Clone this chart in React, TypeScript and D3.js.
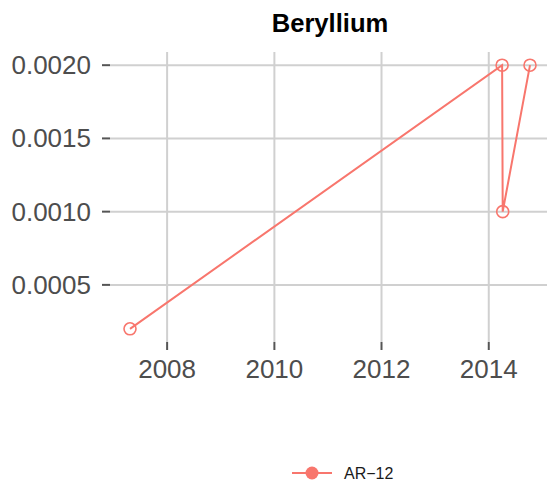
import React from "react";
import * as d3 from "d3";

const title = "Beryllium";
const seriesName = "AR\u221212";
const dates = ["2007-04-23", "2014-04-02", "2014-04-06", "2014-10-09"];
const values = [0.0002, 0.002, 0.001, 0.002];
const yTicks = [0.0005, 0.001, 0.0015, 0.002];
const xTickYears = [2008, 2010, 2012, 2014];

const W = 547;
const H = 483;
const color = "#F8766D";
const font = "'Liberation Sans', Arial, Helvetica, sans-serif";

export default function App() {
  const parse = d3.timeParse("%Y-%m-%d");
  const data = dates.map((d, i) => ({ t: parse(d) as Date, v: values[i] }));

  const tExt = d3.extent(data, (d) => d.t.getTime()) as [number, number];
  const tPad = (tExt[1] - tExt[0]) * 0.05;
  const vExt = d3.extent(data, (d) => d.v) as [number, number];
  const vPad = (vExt[1] - vExt[0]) * 0.05;

  const L = 110, R = 550, T = 52, B = 342;
  const x = d3
    .scaleTime()
    .domain([new Date(tExt[0] - tPad), new Date(tExt[1] + tPad)])
    .range([L, R]);
  const y = d3.scaleLinear().domain([vExt[0] - vPad, vExt[1] + vPad]).range([B, T]);

  const line = d3
    .line<{ t: Date; v: number }>()
    .x((d) => x(d.t))
    .y((d) => y(d.v));

  const fmt = d3.format(".4f");
  const xTicks = xTickYears.map((yr) => new Date(yr, 0, 1));

  return (
    <svg
      width={W}
      height={H}
      style={{ position: "absolute", left: 0, top: 0, background: "#fff" }}
      fontFamily={font}
    >
      <defs>
        <clipPath id="panel">
          <rect x={L} y={T} width={R - L} height={B - T} />
        </clipPath>
      </defs>
      {/* grid */}
      {yTicks.map((v) => (
        <line key={"gy" + v} x1={L} x2={R} y1={y(v)} y2={y(v)} stroke="#d0d0d0" strokeWidth={2} />
      ))}
      {xTicks.map((d) => (
        <line key={"gx" + d.getTime()} x1={x(d)} x2={x(d)} y1={T} y2={B} stroke="#d0d0d0" strokeWidth={2} />
      ))}
      {/* data */}
      <g clipPath="url(#panel)">
        <path d={line(data) || ""} fill="none" stroke={color} strokeWidth={2} />
        {data.map((d, i) => (
          <circle key={i} cx={x(d.t)} cy={y(d.v)} r={6} fill="none" stroke={color} strokeWidth={1.6} />
        ))}
      </g>
      {/* y axis */}
      {yTicks.map((v) => (
        <g key={"ty" + v}>
          <line x1={L - 8} x2={L} y1={y(v)} y2={y(v)} stroke="#555" strokeWidth={2} />
          <text
            x={L - 19}
            y={y(v)}
            textAnchor="end"
            dominantBaseline="central"
            fontSize={26}
            fill="#4d4d4d"
          >
            {fmt(v)}
          </text>
        </g>
      ))}
      {/* x axis */}
      {xTicks.map((d) => (
        <g key={"tx" + d.getTime()}>
          <line x1={x(d)} x2={x(d)} y1={B} y2={B + 8} stroke="#555" strokeWidth={2} />
          <text x={x(d)} y={378} textAnchor="middle" fontSize={26} fill="#4d4d4d">
            {d3.timeFormat("%Y")(d)}
          </text>
        </g>
      ))}
      {/* title */}
      <text x={330} y={32} textAnchor="middle" fontSize={25.6} fontWeight="bold" fill="#000">
        {title}
      </text>
      {/* legend */}
      <line x1={292} x2={332} y1={473} y2={473} stroke={color} strokeWidth={2} />
      <circle cx={312} cy={473} r={6.5} fill={color} />
      <text x={344} y={473} dominantBaseline="central" fontSize={16} fill="#1a1a1a">
        {seriesName}
      </text>
    </svg>
  );
}
